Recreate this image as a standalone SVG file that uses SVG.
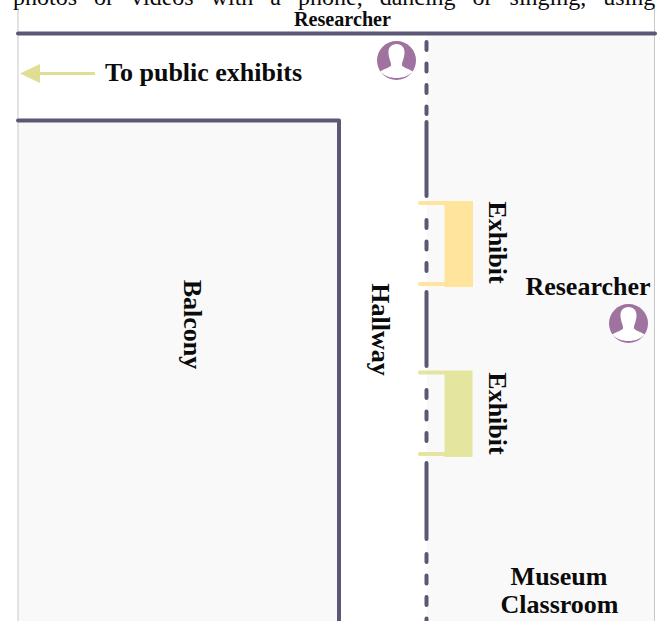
<svg xmlns="http://www.w3.org/2000/svg" width="657" height="621" viewBox="0 0 657 621">
<style>
text{font-family:"Liberation Serif","Times New Roman",serif;fill:#0b0b0b}
.b{font-weight:700;font-size:26px}
.wall{stroke:#5a5874;stroke-width:4;fill:none;stroke-linecap:round;stroke-linejoin:round}
.dash{stroke:#5a5874;stroke-width:4;fill:none;stroke-linecap:round;stroke-dasharray:8 13.5}
.room{fill:#f9f9f9}
.face{fill:#a0729f}
</style>
<defs>
<g id="person">
<circle cx="0" cy="0" r="19.5" class="face"/>
<path d="M-16.5 11C-11 8-7 7-5.500 5C-5 2-7.500-1-8-7C-8.500-13-5-16.500 0-16.500C5-16.500 8.500-13 8-7C7.500-1 5 2 5.500 5C7 7 11 8 16.500 11C12 15.500 6 17.500 0 17.500C-6 17.500-12 15.500-16.500 11Z" fill="#fff"/>
</g>
</defs>
<rect width="657" height="621" fill="#fff"/>
<g id="rooms">
<rect class="room" x="18" y="121" width="321" height="500"/>
<rect class="room" x="427" y="34" width="227" height="587"/>
<path d="M18 8V621M654.500 8V621" stroke="#c9c9c9" stroke-width="1" fill="none"/>
</g>
<text x="13" y="4.500" font-size="24" word-spacing="11">photos or videos with a phone, dancing or singing, using</text>
<g id="connectors">
<path class="wall" d="M18 33.500H655"/>
<path class="wall" d="M18 120.500H339V621"/>
<path class="dash" d="M426.500 42V114"/>
<path class="wall" d="M426.500 122V196"/>
<path class="dash" d="M426.500 220V272"/>
<path class="wall" d="M426.500 292V366"/>
<path class="dash" d="M426.500 390V442"/>
<path class="wall" d="M426.500 463V539"/>
<path class="dash" d="M426.500 554V621"/>
<path d="M95 73.500H38" stroke="#e0de93" stroke-width="3" fill="none"/>
<polygon points="20,73.500 40,64 40,83" fill="#e0de93"/>
</g>
<g id="researcher-top">
<text class="b" x="294" y="26" style="font-size:22px" textLength="97" lengthAdjust="spacingAndGlyphs">Researcher</text>
<use href="#person" x="396.500" y="60.500"/>
</g>
<text class="b" id="to-public" x="105" y="81">To public exhibits</text>
<g id="balcony"><text class="b" transform="translate(184 324.500) rotate(90)" text-anchor="middle">Balcony</text></g>
<g id="hallway"><text class="b" transform="translate(372 329.500) rotate(90)" text-anchor="middle">Hallway</text></g>
<g id="exhibit-1">
<path d="M444.500 201H473V287H444.500V286H419Q417 284 419 282H444.500V205H419Q417 203 419 201Z" fill="#fee49c"/>
<text class="b" transform="translate(489 242.500) rotate(90)" text-anchor="middle">Exhibit</text>
</g>
<g id="exhibit-2">
<path d="M444.500 370.500H472.500V457H444.500V456H419Q417 454 419 452H444.500V374.500H419Q417 372.500 419 370.500Z" fill="#e4e69f"/>
<text class="b" transform="translate(489 413.500) rotate(90)" text-anchor="middle">Exhibit</text>
</g>
<g id="researcher-right">
<text class="b" x="588" y="295" text-anchor="middle">Researcher</text>
<use href="#person" x="628.500" y="323.500"/>
</g>
<g id="classroom">
<text class="b" x="559" y="585" text-anchor="middle">Museum</text>
<text class="b" x="559.500" y="613" text-anchor="middle">Classroom</text>
</g>
</svg>
